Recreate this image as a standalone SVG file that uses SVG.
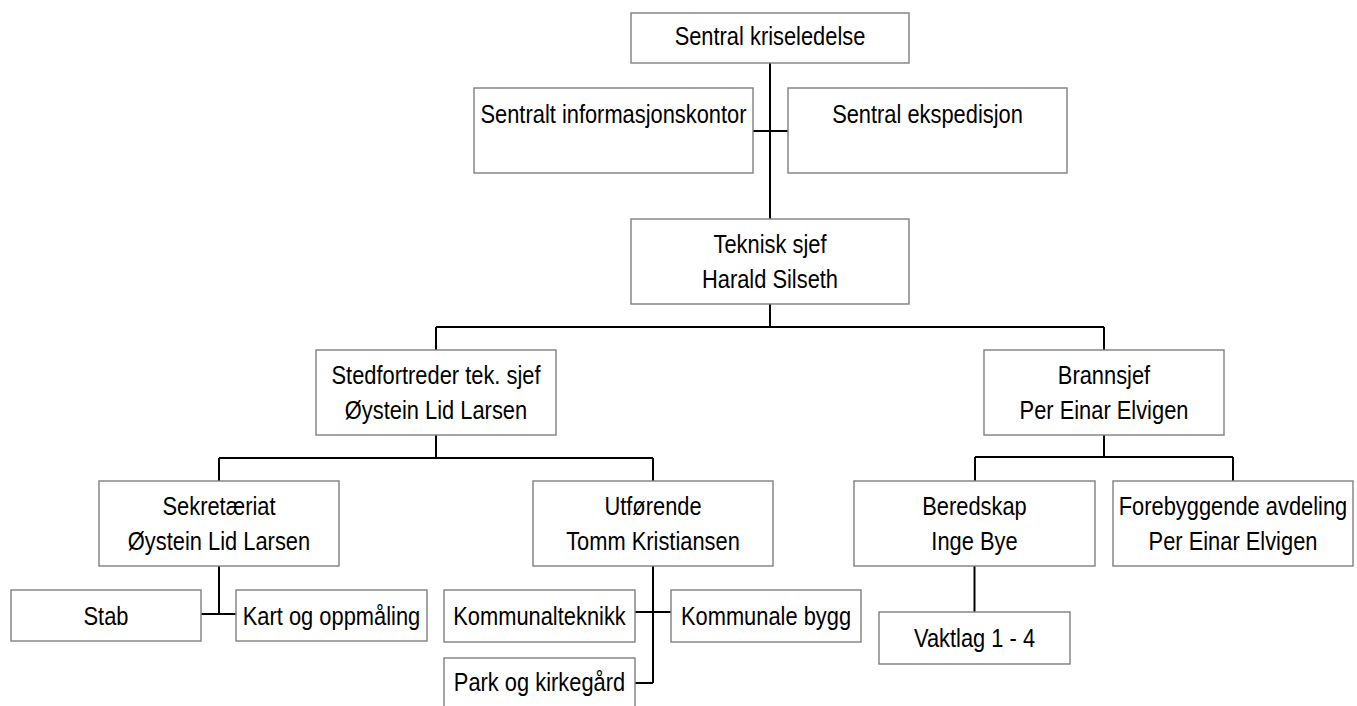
<svg xmlns="http://www.w3.org/2000/svg" width="1357" height="706" viewBox="0 0 1357 706">
<style>
.box{fill:#fff;stroke:#7f7f7f;stroke-width:1.4}
.t{font-family:"Liberation Sans",Arial,sans-serif;font-size:26.67px;fill:#000;text-anchor:middle}
.c{stroke:#000;stroke-width:2;fill:none}
</style>
<rect width="1357" height="706" fill="#fff"/>
<g id="connectors">
<path class="c" d="M770,63V219M753,131H788M770,304V327M436,327H1104M436,327V350M1104,327V350"/>
<path class="c" d="M436,435V458M219,458H653M219,458V481M653,458V481"/>
<path class="c" d="M1104,435V457M975,457H1233M975,457V481M1233,457V481"/>
<path class="c" d="M219,566V614M201,614H236"/>
<path class="c" d="M653,566V683M635,612H671M635,683H653"/>
<path class="c" d="M974.5,566V612"/>
</g>
<g id="n_kriseledelse"><rect class="box" x="631" y="13" width="278" height="50"/><text class="t" transform="translate(770,45) scale(0.82,1)">Sentral kriseledelse</text></g>
<g id="n_info"><rect class="box" x="474" y="88" width="279" height="85"/><text class="t" transform="translate(613.5,123) scale(0.82,1)">Sentralt informasjonskontor</text></g>
<g id="n_eksp"><rect class="box" x="788" y="88" width="279" height="85"/><text class="t" transform="translate(927.5,123) scale(0.82,1)">Sentral ekspedisjon</text></g>
<g id="n_teknisk"><rect class="box" x="631" y="219" width="278" height="85"/><text class="t" transform="translate(770,253) scale(0.82,1)">Teknisk sjef</text><text class="t" transform="translate(770,288) scale(0.82,1)">Harald Silseth</text></g>
<g id="n_sted"><rect class="box" x="316" y="350" width="240" height="85"/><text class="t" transform="translate(436,384) scale(0.82,1)">Stedfortreder tek. sjef</text><text class="t" transform="translate(436,419) scale(0.82,1)">Øystein Lid Larsen</text></g>
<g id="n_brann"><rect class="box" x="984" y="350" width="240" height="85"/><text class="t" transform="translate(1104,384) scale(0.82,1)">Brannsjef</text><text class="t" transform="translate(1104,419) scale(0.82,1)">Per Einar Elvigen</text></g>
<g id="n_sekr"><rect class="box" x="99" y="481" width="240" height="85"/><text class="t" transform="translate(219,515) scale(0.82,1)">Sekretæriat</text><text class="t" transform="translate(219,550) scale(0.82,1)">Øystein Lid Larsen</text></g>
<g id="n_utf"><rect class="box" x="533" y="481" width="240" height="85"/><text class="t" transform="translate(653,515) scale(0.82,1)">Utførende</text><text class="t" transform="translate(653,550) scale(0.82,1)">Tomm Kristiansen</text></g>
<g id="n_bered"><rect class="box" x="854" y="481" width="241" height="85"/><text class="t" transform="translate(974.5,515) scale(0.82,1)">Beredskap</text><text class="t" transform="translate(974.5,550) scale(0.82,1)">Inge Bye</text></g>
<g id="n_foreb"><rect class="box" x="1113" y="481" width="240" height="85"/><text class="t" transform="translate(1233,515) scale(0.82,1)">Forebyggende avdeling</text><text class="t" transform="translate(1233,550) scale(0.82,1)">Per Einar Elvigen</text></g>
<g id="n_stab"><rect class="box" x="11" y="590" width="190" height="51"/><text class="t" transform="translate(106,625) scale(0.82,1)">Stab</text></g>
<g id="n_kart"><rect class="box" x="236" y="590" width="191" height="51"/><text class="t" transform="translate(331.5,625) scale(0.82,1)">Kart og oppmåling</text></g>
<g id="n_kommtek"><rect class="box" x="444" y="590" width="191" height="52"/><text class="t" transform="translate(539.5,624.5) scale(0.82,1)">Kommunalteknikk</text></g>
<g id="n_kommbygg"><rect class="box" x="671" y="590" width="190" height="52"/><text class="t" transform="translate(766,624.5) scale(0.82,1)">Kommunale bygg</text></g>
<g id="n_park"><rect class="box" x="444" y="658" width="191" height="60"/><text class="t" transform="translate(539.5,691) scale(0.82,1)">Park og kirkegård</text></g>
<g id="n_vakt"><rect class="box" x="879" y="612" width="191" height="52"/><text class="t" transform="translate(974.5,647) scale(0.82,1)">Vaktlag 1 - 4</text></g>
</svg>
